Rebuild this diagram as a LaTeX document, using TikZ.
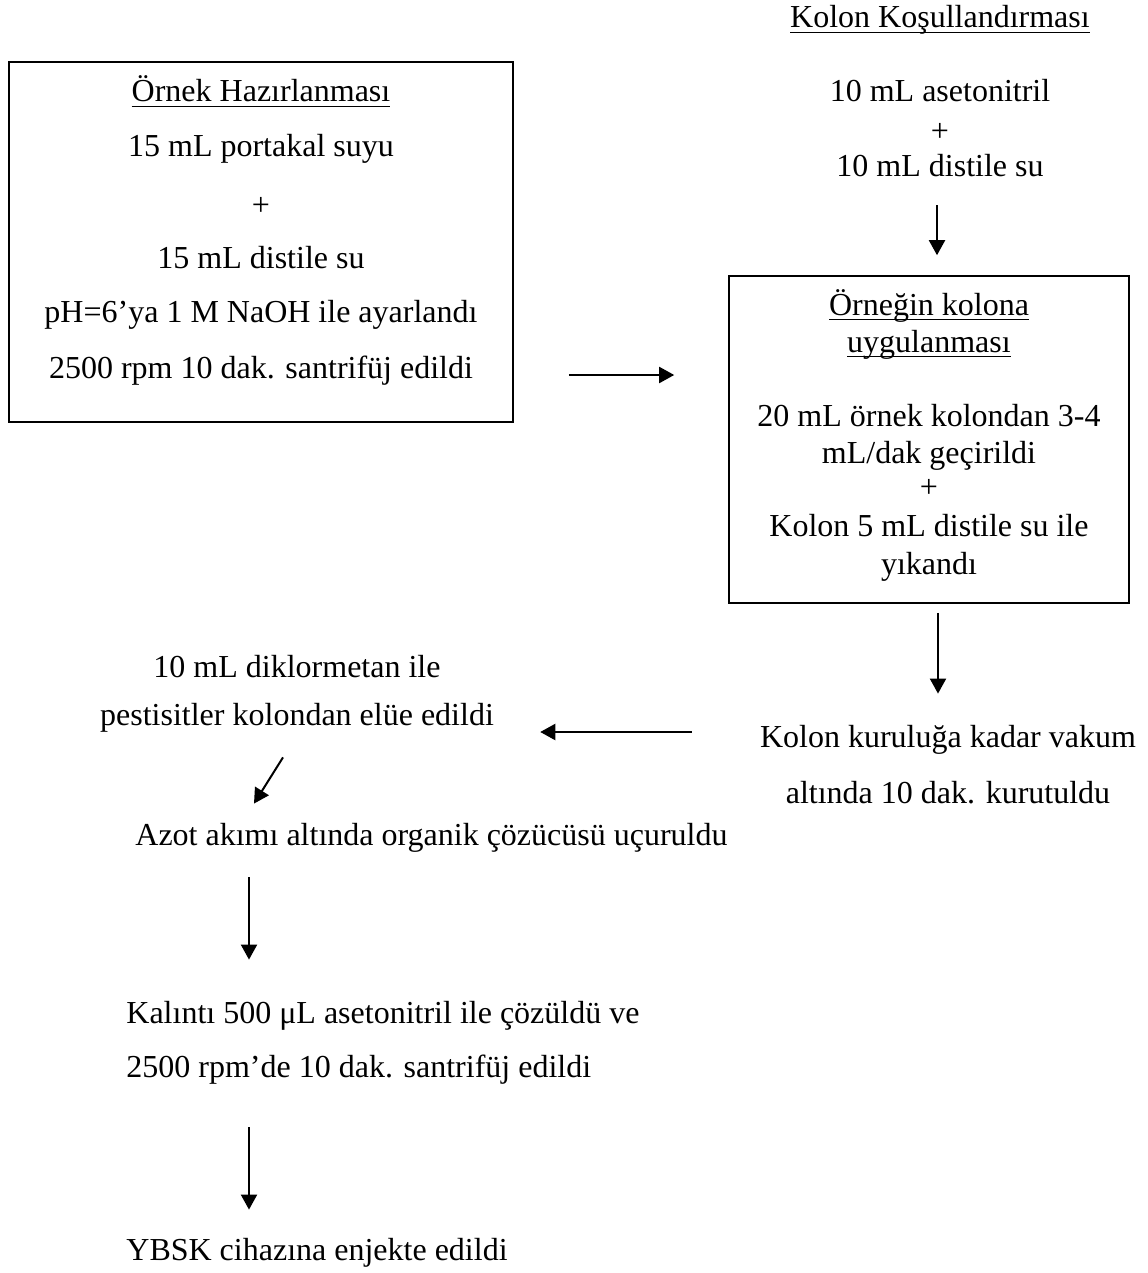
\documentclass[tikz,border=0pt]{standalone}
\usepackage{fontspec}
\setmainfont{Liberation Serif}
\usepackage{tikz}
\usetikzlibrary{arrows.meta,calc}
\newsavebox{\ulbox}
\newcommand{\ulin}[1]{\sbox{\ulbox}{#1}\rlap{\rule[-2.7pt]{\wd\ulbox}{0.7pt}}\usebox{\ulbox}}

\begin{document}
\begin{tikzpicture}[
    x=0.5pt, y=-0.5pt,
    >={Triangle[length=7.5pt,width=8pt]},
    txt/.style={font=\fontsize{16}{19}\selectfont, inner sep=0pt,
                text height=11pt, text depth=3.5pt},
    ctr/.style={txt, anchor=base},
    lft/.style={txt, anchor=base west},
    plus/.style={font=\fontsize{16}{19}\selectfont, inner sep=0pt},
    box/.style={draw, line width=0.8pt, inner sep=0pt},
    arr/.style={->, line width=1pt},
]
\useasboundingbox (0,0) rectangle (1147,1273);

% Sample preparation
\node[box, minimum width=252pt, minimum height=180pt] (prep) at (261,242) {};
\node[ctr] (prep1) at (261,102) {\ulin{Örnek Hazırlanması}};
\node[ctr] (prep2) at (261,157) {15 mL portakal suyu};
\node[plus] (prep3) at (261,206) {+};
\node[ctr] (prep4) at (261,268) {15 mL distile su};
\node[ctr] (prep5) at (261,322) {pH=6’ya 1 M NaOH ile ayarlandı};
\node[ctr] (prep6) at (261,378) {2500 rpm 10 dak. santrifüj edildi};

% Column conditioning
\node[ctr] (cond1) at (940,28) {\ulin{Kolon Koşullandırması}};
\node[ctr] (cond2) at (940,102) {10 mL asetonitril};
\node[plus] (cond3) at (940,132) {+};
\node[ctr] (cond4) at (940,177) {10 mL distile su};

% Loading the sample
\node[box, minimum width=200pt, minimum height=163.5pt] (apply) at (929,439.5) {};
\node[ctr] (apply1) at (929,315) {\ulin{Örneğin kolona}};
\node[ctr] (apply2) at (929,352) {\ulin{uygulanması}};
\node[ctr] (apply3) at (929,426) {20 mL örnek kolondan 3-4};
\node[ctr] (apply4) at (929,463) {mL/dak geçirildi};
\node[plus] (apply5) at (929,488) {+};
\node[ctr] (apply6) at (929,536) {Kolon 5 mL distile su ile};
\node[ctr] (apply7) at (929,574) {yıkandı};

% Drying and elution
\node[ctr] (dry1) at (948,747) {Kolon kuruluğa kadar vakum};
\node[ctr] (dry2) at (948,803) {altında 10 dak. kurutuldu};
\node[ctr] (elu1) at (297,677) {10 mL diklormetan ile};
\node[ctr] (elu2) at (297,725) {pestisitler kolondan elüe edildi};

% Final steps
\node[lft] (evap) at (135,845) {Azot akımı altında organik çözücüsü uçuruldu};
\node[lft] (res1) at (126,1023) {Kalıntı 500 μL asetonitril ile çözüldü ve};
\node[lft] (res2) at (126,1077) {2500 rpm’de 10 dak. santrifüj edildi};
\node[lft] (inj) at (126,1260) {YBSK cihazına enjekte edildi};

% Arrows
\draw[arr] ($(prep.east)+(55,133)$) -- ($(apply.west)+(-54,-64.5)$);
\draw[arr] ($(cond4.south)+(-3,21)$) -- ($(apply.north)+(8,-20)$);
\draw[arr] ($(apply.south)+(9,9)$) -- ($(dry1.north)+(-10,-31)$);
\draw[arr] ($(dry1.west)+(-68,-7.5)$) -- ($(elu2.east)+(46,14.5)$);
\draw[arr] ($(elu2.south)+(-14,25)$) -- ($(evap.north west)+(119,-19)$);
\draw[arr] ($(evap.south west)+(114,25)$) -- ($(res1.north west)+(123,-41)$);
\draw[arr] ($(res2.south west)+(123,43)$) -- ($(inj.north west)+(123,-28)$);
\end{tikzpicture}
\end{document}
